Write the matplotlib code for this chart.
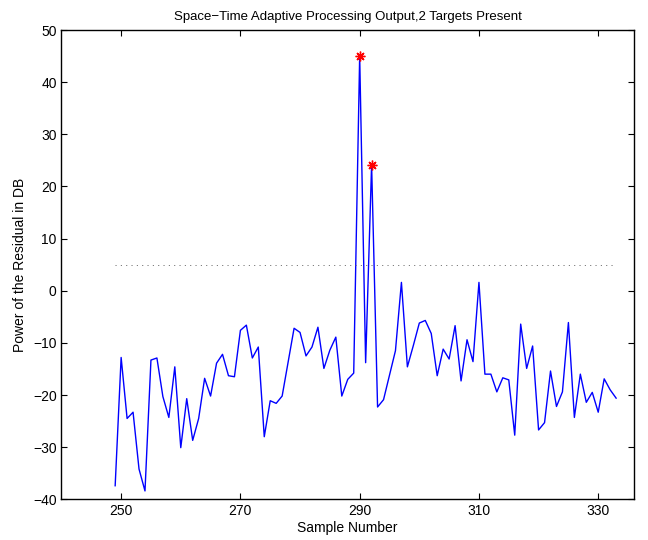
import matplotlib
matplotlib.use("Agg")
import matplotlib.pyplot as plt
import numpy as np

plt.rcParams['font.family'] = ['Liberation Sans', 'DejaVu Sans']

# STAP residual power per sample (dB)
samples = np.arange(249, 334)
power_db = [
    -37.4, -12.8, -24.5, -23.3, -34.2, -38.4, -13.3, -12.9, -20.3, -24.3,
    -14.6, -30.1, -20.7, -28.7, -24.5, -16.8, -20.2, -13.9, -12.2, -16.3,
    -16.5, -7.6, -6.6, -12.9, -10.8, -28.0, -21.1, -21.6, -20.2, -13.7,
    -7.2, -8.0, -12.5, -10.8, -7.0, -14.9, -11.4, -8.9, -20.2, -17.0,
    -15.8, 45.0, -13.8, 24.2, -22.3, -20.9, -16.2, -11.5, 1.6, -14.6,
    -10.5, -6.2, -5.7, -8.2, -16.3, -11.2, -13.1, -6.7, -17.3, -9.4,
    -13.6, 1.6, -16.0, -16.0, -19.4, -16.7, -17.1, -27.7, -6.4, -14.9,
    -10.6, -26.7, -25.3, -15.4, -22.2, -19.4, -6.1, -24.3, -16.0, -21.4,
    -19.5, -23.3, -16.9, -19.0, -20.6,
]

# detected targets
target_samples = [290, 292]
target_power = [45.0, 24.2]

# detection threshold
threshold_db = 5.0
threshold_range = [249, 333]

xticks = [250, 270, 290, 310, 330]
yticks = list(range(-40, 51, 10))

fig = plt.figure(figsize=(6.48, 5.40), dpi=100)
ax = fig.add_axes([0.0949, 0.0754, 0.8835, 0.8690])

ax.plot(samples, power_db, color='blue', lw=1.0)
# eight-armed asterisk markers on the detections
ax.plot(target_samples, target_power, linestyle='none', marker=(8, 2, 0),
        color='red', markersize=7, markeredgewidth=1.0)
ax.plot(threshold_range, [threshold_db, threshold_db], color='0.35',
        lw=0.6, linestyle=(0, (1.3, 5.1)))

ax.set_xlim(240, 336)
ax.set_ylim(-40, 50)
ax.set_xticks(xticks)
ax.set_yticks(yticks)
ax.tick_params(direction='in', length=4, width=0.8, labelsize=10,
               top=True, right=True)
for s in ax.spines.values():
    s.set_linewidth(1.0)

ax.set_title('Space\u2212Time Adaptive Processing Output,2 Targets Present',
             fontsize=9.5, pad=7)
ax.set_xlabel('Sample Number', fontsize=10, labelpad=2)
ax.set_ylabel('Power of the Residual in DB', fontsize=10, labelpad=4)

fig.savefig('out.png', dpi=100)
